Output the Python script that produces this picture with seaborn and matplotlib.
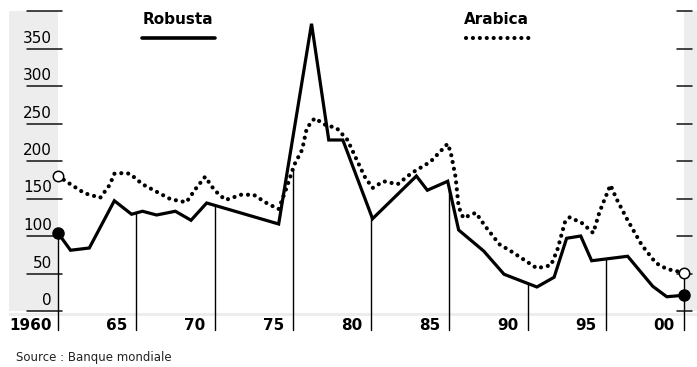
import numpy as np
import pandas as pd
import matplotlib
matplotlib.use("Agg")
import matplotlib.pyplot as plt
import seaborn as sns

# -----------------------------
# 1. Data
# -----------------------------
robusta_year = [1960, 1960.8, 1962.0, 1963.6, 1964.7, 1965.4, 1966.3, 1967.5, 1968.5,
                1969.5, 1974.1, 1976.2, 1977.3, 1978.2, 1980.1, 1982.9, 1983.6, 1984.9,
                1985.6, 1987.2, 1988.5, 1990.6, 1991.7, 1992.5, 1993.4, 1994.1, 1996.4,
                1998.0, 1998.9, 2000]
robusta_value = [104, 81, 84, 147, 129, 133, 128, 133, 121,
                 144, 116, 383, 228, 228, 123, 180, 161, 173,
                 108, 80, 49, 32, 45, 97, 100, 67, 73,
                 33, 19, 21]

arabica_year = [1960, 1960.8, 1961.7, 1962.7, 1963.3, 1963.6, 1964.2, 1964.6, 1965.4,
                1966.3, 1967.2, 1968.2, 1968.8, 1969.4, 1970.0, 1970.7, 1971.7, 1972.5,
                1973.4, 1974.1, 1974.6, 1975.1, 1975.6, 1975.9, 1976.4, 1977.1, 1977.8,
                1978.5, 1979.1, 1979.6, 1980.1, 1980.8, 1981.7, 1982.6, 1983.8, 1984.9,
                1985.1, 1985.4, 1985.6, 1985.9, 1986.7, 1987.3, 1988.2, 1989.0, 1989.8,
                1990.6, 1991.5, 1991.9, 1992.4, 1992.7, 1993.5, 1994.2, 1994.6, 1995.3,
                1995.7, 1996.4, 1997.3, 1998.2, 1998.9, 2000]
arabica_value = [180, 169, 157, 151, 168, 183, 184, 183, 169,
                 159, 149, 145, 163, 179, 161, 148, 155, 155,
                 143, 136, 164, 195, 215, 244, 257, 248, 244,
                 228, 201, 179, 164, 173, 169, 184, 199, 223,
                 211, 179, 139, 124, 131, 113, 89, 79, 68,
                 57, 61, 81, 119, 125, 117, 104, 132, 168,
                 149, 121, 88, 64, 56, 51]

x_ticks = [1960, 1965, 1970, 1975, 1980, 1985, 1990, 1995, 2000]
x_labels = ["1960", "65", "70", "75", "80", "85", "90", "95", "00"]
y_ticks = [0, 50, 100, 150, 200, 250, 300, 350, 400]
y_labels = ["0", "50", "100", "150", "200", "250", "300", "350", ""]

df_rob = pd.DataFrame({"year": robusta_year, "value": robusta_value})
df_ara = pd.DataFrame({"year": arabica_year, "value": arabica_value})

# -----------------------------
# 2. Figure / scales
# -----------------------------
sns.set_style("white")
plt.rcParams["font.family"] = ["DejaVu Sans"]
plt.rcParams["text.color"] = "black"

W, H = 697, 367
fig = plt.figure(figsize=(W / 100, H / 100), dpi=100)
ax = fig.add_axes([0, 0, 1, 1])

px_year = 15.65   # pixels per year
px_unit = 0.75    # pixels per price unit
x0 = 1960 - 58 / px_year
x1 = 1960 + (W - 58) / px_year
y0 = -(H - 311) / px_unit
y1 = 311 / px_unit
ax.set_xlim(x0, x1)
ax.set_ylim(y0, y1)
ax.axis("off")

dx = 1 / px_year   # one pixel in years
dy = 1 / px_unit   # one pixel in value

grey = "#ededed"

# -----------------------------
# 3. Background bands
# -----------------------------
ax.fill_between([x0 + 9 * dx, 1960], 0, 400, color=grey, lw=0, zorder=0)
ax.fill_between([2000, x1], 0, 400, color=grey, lw=0, zorder=0)
ax.fill_between([x0 + 9 * dx, x1], -1.5 * dy, -5 * dy, color=grey, lw=0, zorder=0)

# tick marks left / right
for v in y_ticks:
    ax.plot([x0 + 27 * dx, 1960 + 4 * dx], [v, v], color="#111111", lw=1.1, zorder=1)
    ax.plot([2000 - 7 * dx, 2000 + 8 * dx], [v, v], color="#111111", lw=1.1, zorder=1)

for v, lab in zip(y_ticks, y_labels):
    ax.text(1960 - 6 * dx, v + 3 * dy, lab, ha="right", va="bottom",
            fontsize=11, color="black")

# -----------------------------
# 4. Drop lines at each 5 years
# -----------------------------
rob_at = np.interp(x_ticks, robusta_year, robusta_value)
ara_at = np.interp(x_ticks, arabica_year, arabica_value)
tops = np.minimum(rob_at, ara_at)
tops[-1] = ara_at[-1]
bottom = -25
for xt, top in zip(x_ticks, tops):
    ax.plot([xt, xt], [bottom, top], color="black", lw=1.0, zorder=2)

for xt, lab in zip(x_ticks, x_labels):
    off = 6 if lab == "1960" else 9
    ax.text(xt - off * dx, -20, lab, ha="right", va="center",
            fontsize=11, fontweight="bold", color="black")

# -----------------------------
# 5. Lines
# -----------------------------
sns.lineplot(data=df_rob, x="year", y="value", ax=ax, color="black",
             linewidth=2.3, estimator=None, sort=False,
             solid_joinstyle="miter", zorder=4)
sns.lineplot(data=df_ara, x="year", y="value", ax=ax, color="black",
             linewidth=3.0, estimator=None, sort=False,
             linestyle=(0, (0.01, 1.65)), dash_capstyle="round", zorder=3)

# end markers
ends = [0, -1]
ax.plot(df_rob["year"].iloc[ends], df_rob["value"].iloc[ends], "o",
        color="black", markersize=8, zorder=6)
ax.plot(df_ara["year"].iloc[ends], df_ara["value"].iloc[ends], "o",
        markerfacecolor="white", markeredgecolor="black", markersize=7.5,
        markeredgewidth=1.1, zorder=6)

# -----------------------------
# 6. Legend (titles above sample lines)
# -----------------------------
leg_y_text = 389
leg_y_line = 364
ax.text(1965.43, leg_y_text, "Robusta", ha="left", va="center",
        fontsize=11, fontweight="bold", color="black")
ax.plot([1965.37, 1970.03], [leg_y_line, leg_y_line], color="black",
        lw=2.6, solid_capstyle="round")
ax.text(1985.94, leg_y_text, "Arabica", ha="left", va="center",
        fontsize=11, fontweight="bold", color="black")
ax.plot([1986.05, 1990.3], [leg_y_line, leg_y_line], color="black",
        lw=3.0, linestyle=(0, (0.01, 1.65)), dash_capstyle="round")

# -----------------------------
# 7. Source
# -----------------------------
fig.text(16 / W, 1 - 357 / H, "Source : Banque mondiale", ha="left",
         va="center", fontsize=8.5, color="#222222")

plt.savefig("out.png", dpi=100)
